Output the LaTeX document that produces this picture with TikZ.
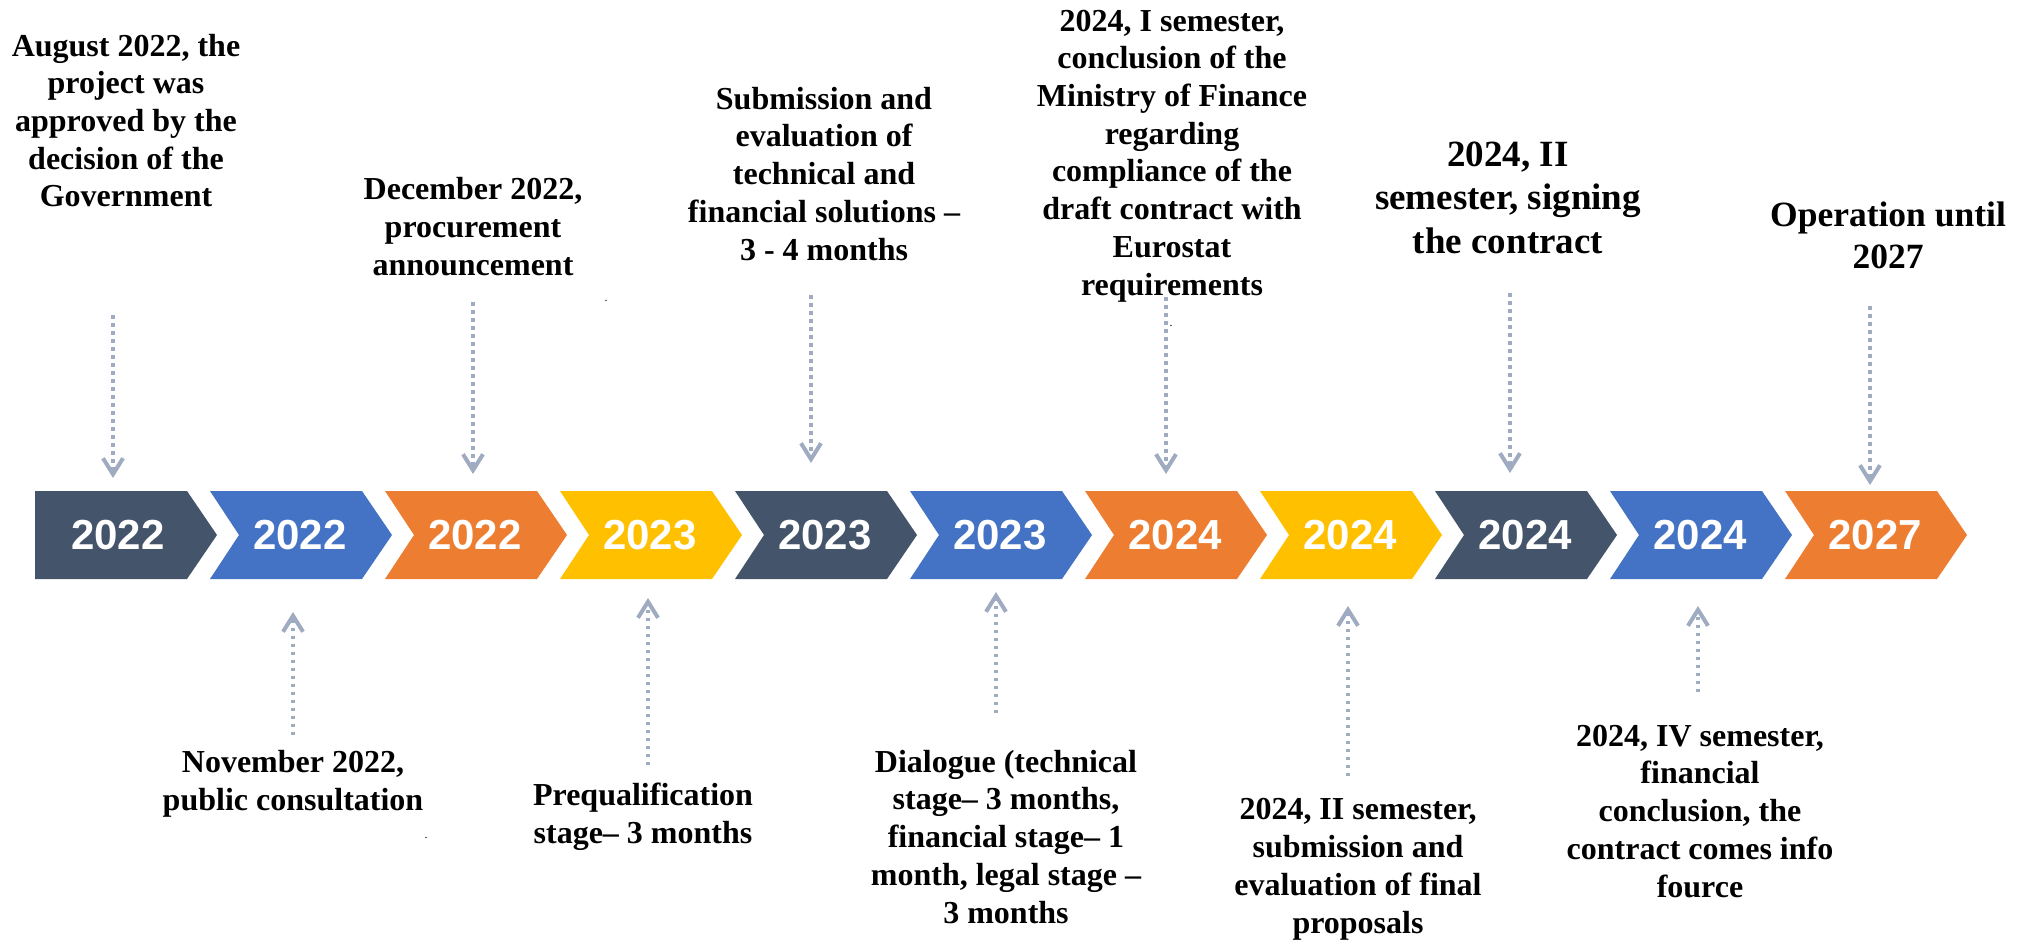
\documentclass[tikz,border=0pt]{standalone}
\usepackage{fontspec}
\setmainfont{Liberation Serif}
\newfontfamily\yearfont{Liberation Sans}
\usetikzlibrary{arrows.meta}
\definecolor{slate}{HTML}{44546A}
\definecolor{cblue}{HTML}{4472C4}
\definecolor{corange}{HTML}{ED7D31}
\definecolor{cgold}{HTML}{FFC000}
\definecolor{pointer}{HTML}{9EABC0}
\begin{document}
\begin{tikzpicture}[x=1pt, y=-1pt,
  yr/.style={text=white, inner sep=0pt, font=\yearfont\bfseries\fontsize{42}{42}\selectfont},
  note/.style={align=center, inner sep=0pt, anchor=base, font=\bfseries\fontsize{32}{37.7}\selectfont},
  bignote/.style={note, font=\bfseries\fontsize{37}{43.5}\selectfont},
  arr/.style={pointer, line width=4pt, dash pattern=on 3.5pt off 4.5pt, -{Straight Barb[length=16pt,width=20pt]}}]
\useasboundingbox (0,0) rectangle (2032,944);

% chevrons
\fill[slate] (35,491) -- ++(152,0) -- ++(30,44) -- ++(-30,44) -- ++(-152,0) -- cycle;
\fill[cblue] (210,491) -- ++(152,0) -- ++(30,44) -- ++(-30,44) -- ++(-152,0) -- ++(29,-44) -- cycle;
\fill[corange] (385,491) -- ++(152,0) -- ++(30,44) -- ++(-30,44) -- ++(-152,0) -- ++(29,-44) -- cycle;
\fill[cgold] (560,491) -- ++(152,0) -- ++(30,44) -- ++(-30,44) -- ++(-152,0) -- ++(29,-44) -- cycle;
\fill[slate] (735,491) -- ++(152,0) -- ++(30,44) -- ++(-30,44) -- ++(-152,0) -- ++(29,-44) -- cycle;
\fill[cblue] (910,491) -- ++(152,0) -- ++(30,44) -- ++(-30,44) -- ++(-152,0) -- ++(29,-44) -- cycle;
\fill[corange] (1085,491) -- ++(152,0) -- ++(30,44) -- ++(-30,44) -- ++(-152,0) -- ++(29,-44) -- cycle;
\fill[cgold] (1260,491) -- ++(152,0) -- ++(30,44) -- ++(-30,44) -- ++(-152,0) -- ++(29,-44) -- cycle;
\fill[slate] (1435,491) -- ++(152,0) -- ++(30,44) -- ++(-30,44) -- ++(-152,0) -- ++(29,-44) -- cycle;
\fill[cblue] (1610,491) -- ++(152,0) -- ++(30,44) -- ++(-30,44) -- ++(-152,0) -- ++(29,-44) -- cycle;
\fill[corange] (1785,491) -- ++(152,0) -- ++(30,44) -- ++(-30,44) -- ++(-152,0) -- ++(29,-44) -- cycle;

\node[yr] (y1) at (118,535) {2022};
\node[yr] (y2) at (300,535) {2022};
\node[yr] (y3) at (475,535) {2022};
\node[yr] (y4) at (650,535) {2023};
\node[yr] (y5) at (825,535) {2023};
\node[yr] (y6) at (1000,535) {2023};
\node[yr] (y7) at (1175,535) {2024};
\node[yr] (y8) at (1350,535) {2024};
\node[yr] (y9) at (1525,535) {2024};
\node[yr] (y10) at (1700,535) {2024};
\node[yr] (y11) at (1875,535) {2027};

% texts above (placed by last baseline)
\node[note] (aug) at (126,207) {August 2022, the\\project was\\approved by the\\decision of the\\Government};
\node[note] (dec) at (473,275) {December 2022,\\procurement\\announcement};
\node[note] (subm) at (824,260) {Submission and\\evaluation of\\technical and\\financial solutions –\\3 - 4 months};
\node[note] (mof) at (1172,295) {2024, I semester,\\conclusion of the\\Ministry of Finance\\regarding\\compliance of the\\draft contract with\\Eurostat\\requirements};
\node[bignote] (sign) at (1508,253) {2024, II\\semester, signing\\the contract};
\node[note, font=\bfseries\fontsize{35.5}{41}\selectfont] (oper) at (1888,268) {Operation until\\2027};

% texts below
\node[note] (nov) at (293,810) {November 2022,\\public consultation};
\node[note] (preq) at (643,843) {Prequalification\\stage– 3 months};
\node[note] (dial) at (1006,923) {Dialogue (technical\\stage– 3 months,\\financial stage– 1\\month, legal stage –\\3 months};
\node[note] (final) at (1358,933) {2024, II semester,\\submission and\\evaluation of final\\proposals};
\node[note] (force) at (1700,897) {2024, IV semester,\\financial\\conclusion, the\\contract comes info\\fource};

\node[font=\fontsize{12}{12}\selectfont, inner sep=0pt] (d1) at (606,301) {.};
\node[font=\fontsize{12}{12}\selectfont, inner sep=0pt] (d2) at (1171,326) {.};
\node[font=\fontsize{12}{12}\selectfont, inner sep=0pt] (d3) at (426,838) {.};

% pointers
\coordinate (t1) at (113,315); \coordinate (h1) at (113,478);
\coordinate (t2) at (473,302); \coordinate (h2) at (473,474);
\coordinate (t3) at (811,295); \coordinate (h3) at (811,463);
\coordinate (t4) at (1166,297); \coordinate (h4) at (1166,474);
\coordinate (t5) at (1510,293); \coordinate (h5) at (1510,473);
\coordinate (t6) at (1870,306); \coordinate (h6) at (1870,485);
\coordinate (b1) at (293,735); \coordinate (u1) at (293,612);
\coordinate (b2) at (648,765); \coordinate (u2) at (648,598);
\coordinate (b3) at (996,713); \coordinate (u3) at (996,592);
\coordinate (b4) at (1348,776); \coordinate (u4) at (1348,606);
\coordinate (b5) at (1698,692); \coordinate (u5) at (1698,606);
\draw[arr] (t1)--(h1);
\draw[arr] (t2)--(h2);
\draw[arr] (t3)--(h3);
\draw[arr] (t4)--(h4);
\draw[arr] (t5)--(h5);
\draw[arr] (t6)--(h6);
\draw[arr] (b1)--(u1);
\draw[arr] (b2)--(u2);
\draw[arr] (b3)--(u3);
\draw[arr] (b4)--(u4);
\draw[arr] (b5)--(u5);
\end{tikzpicture}
\end{document}
